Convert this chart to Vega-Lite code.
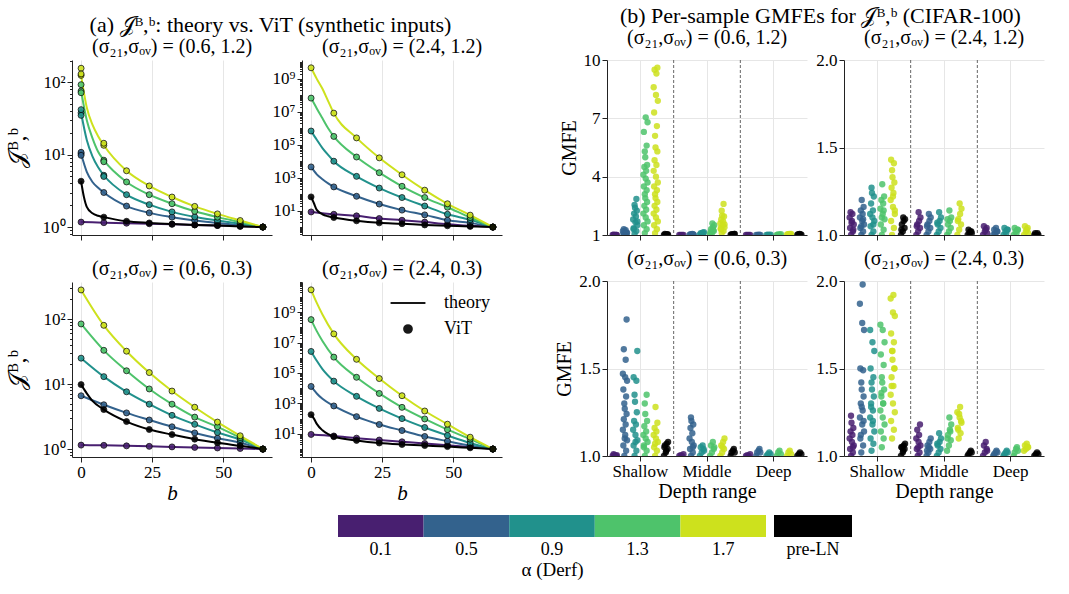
{
"$schema":"https://vega.github.io/schema/vega-lite/v6.json",
"config":{"font":"Liberation Serif","view":{"stroke":null},
 "axis":{"labelFontSize":17,"titleFontSize":19,"labelColor":"black","titleColor":"black","domainColor":"#222","tickColor":"#222","gridColor":"#e6e6e6","titleFontWeight":"normal","tickSize":5,"labelPadding":2},
 "title":{"fontSize":20,"fontWeight":"normal","color":"black","offset":3,"anchor":"middle"}},
"datasets":{
"a1":[
{"a":"0.1","b":0,"v":1.17,"k":"p"},{"a":"0.1","b":8,"v":1.15,"k":"p"},{"a":"0.1","b":16,"v":1.13,"k":"p"},{"a":"0.1","b":24,"v":1.11,"k":"p"},{"a":"0.1","b":32,"v":1.09,"k":"p"},{"a":"0.1","b":40,"v":1.07,"k":"p"},{"a":"0.1","b":48,"v":1.05,"k":"p"},{"a":"0.1","b":56,"v":1.03,"k":"p"},{"a":"0.1","b":64,"v":1.0,"k":"p"},
{"a":"0.5","b":0,"v":10.3,"k":"p"},{"a":"0.5","b":2,"v":5.8,"k":"t"},{"a":"0.5","b":4,"v":4.2,"k":"t"},{"a":"0.5","b":6,"v":3.5,"k":"t"},{"a":"0.5","b":8,"v":3.0,"k":"p"},{"a":"0.5","b":16,"v":1.95,"k":"p"},{"a":"0.5","b":24,"v":1.57,"k":"p"},{"a":"0.5","b":32,"v":1.37,"k":"p"},{"a":"0.5","b":40,"v":1.23,"k":"p"},{"a":"0.5","b":48,"v":1.14,"k":"p"},{"a":"0.5","b":56,"v":1.06,"k":"p"},{"a":"0.5","b":64,"v":1.0,"k":"p"},{"a":"0.5","b":0,"v":10.8,"k":"v"},{"a":"0.5","b":0,"v":9.8,"k":"v"},
{"a":"0.9","b":0,"v":38,"k":"p"},{"a":"0.9","b":2,"v":16,"k":"t"},{"a":"0.9","b":4,"v":9.5,"k":"t"},{"a":"0.9","b":6,"v":6.7,"k":"t"},{"a":"0.9","b":8,"v":5.2,"k":"p"},{"a":"0.9","b":16,"v":2.8,"k":"p"},{"a":"0.9","b":24,"v":2.04,"k":"p"},{"a":"0.9","b":32,"v":1.62,"k":"p"},{"a":"0.9","b":40,"v":1.38,"k":"p"},{"a":"0.9","b":48,"v":1.23,"k":"p"},{"a":"0.9","b":56,"v":1.11,"k":"p"},{"a":"0.9","b":64,"v":1.0,"k":"p"},{"a":"0.9","b":0,"v":42,"k":"v"},{"a":"0.9","b":0,"v":35,"k":"v"},{"a":"0.9","b":8,"v":5.0,"k":"v"},
{"a":"1.3","b":0,"v":76,"k":"p"},{"a":"1.3","b":2,"v":30,"k":"t"},{"a":"1.3","b":4,"v":17,"k":"t"},{"a":"1.3","b":6,"v":11,"k":"t"},{"a":"1.3","b":8,"v":8.4,"k":"p"},{"a":"1.3","b":16,"v":4.2,"k":"p"},{"a":"1.3","b":24,"v":2.8,"k":"p"},{"a":"1.3","b":32,"v":2.1,"k":"p"},{"a":"1.3","b":40,"v":1.65,"k":"p"},{"a":"1.3","b":48,"v":1.37,"k":"p"},{"a":"1.3","b":56,"v":1.17,"k":"p"},{"a":"1.3","b":64,"v":1.0,"k":"p"},{"a":"1.3","b":0,"v":93,"k":"v"},{"a":"1.3","b":0,"v":72,"k":"v"},{"a":"1.3","b":8,"v":8.0,"k":"v"},
{"a":"1.7","b":0,"v":125,"k":"p"},{"a":"1.7","b":2,"v":45,"k":"t"},{"a":"1.7","b":4,"v":26,"k":"t"},{"a":"1.7","b":6,"v":18,"k":"t"},{"a":"1.7","b":8,"v":13.5,"k":"p"},{"a":"1.7","b":16,"v":6.0,"k":"p"},{"a":"1.7","b":24,"v":3.7,"k":"p"},{"a":"1.7","b":32,"v":2.6,"k":"p"},{"a":"1.7","b":40,"v":1.93,"k":"p"},{"a":"1.7","b":48,"v":1.52,"k":"p"},{"a":"1.7","b":56,"v":1.23,"k":"p"},{"a":"1.7","b":64,"v":1.0,"k":"p"},{"a":"1.7","b":0,"v":157,"k":"v"},{"a":"1.7","b":0,"v":131,"k":"v"},{"a":"1.7","b":8,"v":14.4,"k":"v"},
{"a":"pre-LN","b":0,"v":4.3,"k":"p"},{"a":"pre-LN","b":1,"v":2.6,"k":"t"},{"a":"pre-LN","b":2,"v":1.9,"k":"t"},{"a":"pre-LN","b":4,"v":1.55,"k":"t"},{"a":"pre-LN","b":6,"v":1.43,"k":"t"},{"a":"pre-LN","b":8,"v":1.37,"k":"p"},{"a":"pre-LN","b":16,"v":1.2,"k":"p"},{"a":"pre-LN","b":24,"v":1.14,"k":"p"},{"a":"pre-LN","b":32,"v":1.1,"k":"p"},{"a":"pre-LN","b":40,"v":1.07,"k":"p"},{"a":"pre-LN","b":48,"v":1.05,"k":"p"},{"a":"pre-LN","b":56,"v":1.02,"k":"p"},{"a":"pre-LN","b":64,"v":1.0,"k":"p"}],
"a2":[
{"a":"0.1","b":0,"v":8.3,"k":"p"},{"a":"0.1","b":8,"v":6.0,"k":"p"},{"a":"0.1","b":16,"v":4.8,"k":"p"},{"a":"0.1","b":24,"v":3.3,"k":"p"},{"a":"0.1","b":32,"v":2.6,"k":"p"},{"a":"0.1","b":40,"v":2.0,"k":"p"},{"a":"0.1","b":48,"v":1.5,"k":"p"},{"a":"0.1","b":56,"v":1.2,"k":"p"},{"a":"0.1","b":64,"v":1.0,"k":"p"},
{"a":"0.5","b":0,"v":4500,"k":"p"},{"a":"0.5","b":2,"v":1600,"k":"t"},{"a":"0.5","b":4,"v":800,"k":"t"},{"a":"0.5","b":6,"v":450,"k":"t"},{"a":"0.5","b":8,"v":275,"k":"p"},{"a":"0.5","b":16,"v":74,"k":"p"},{"a":"0.5","b":24,"v":25,"k":"p"},{"a":"0.5","b":32,"v":10.7,"k":"p"},{"a":"0.5","b":40,"v":5.5,"k":"p"},{"a":"0.5","b":48,"v":2.6,"k":"p"},{"a":"0.5","b":56,"v":1.8,"k":"p"},{"a":"0.5","b":64,"v":1.0,"k":"p"},
{"a":"0.9","b":0,"v":680000,"k":"p"},{"a":"0.9","b":2,"v":200000,"k":"t"},{"a":"0.9","b":4,"v":63000,"k":"t"},{"a":"0.9","b":6,"v":24000,"k":"t"},{"a":"0.9","b":8,"v":10000,"k":"p"},{"a":"0.9","b":16,"v":1200,"k":"p"},{"a":"0.9","b":24,"v":234,"k":"p"},{"a":"0.9","b":32,"v":62,"k":"p"},{"a":"0.9","b":40,"v":19,"k":"p"},{"a":"0.9","b":48,"v":6,"k":"p"},{"a":"0.9","b":56,"v":2.8,"k":"p"},{"a":"0.9","b":64,"v":1.0,"k":"p"},
{"a":"1.3","b":0,"v":68000000,"k":"p"},{"a":"1.3","b":2,"v":16000000,"k":"t"},{"a":"1.3","b":4,"v":4000000,"k":"t"},{"a":"1.3","b":6,"v":1000000,"k":"t"},{"a":"1.3","b":8,"v":320000,"k":"p"},{"a":"1.3","b":16,"v":18000,"k":"p"},{"a":"1.3","b":24,"v":2000,"k":"p"},{"a":"1.3","b":32,"v":300,"k":"p"},{"a":"1.3","b":40,"v":62,"k":"p"},{"a":"1.3","b":48,"v":16,"k":"p"},{"a":"1.3","b":56,"v":3.8,"k":"p"},{"a":"1.3","b":64,"v":1.0,"k":"p"},
{"a":"1.7","b":0,"v":4700000000,"k":"p"},{"a":"1.7","b":2,"v":1000000000,"k":"t"},{"a":"1.7","b":4,"v":250000000,"k":"t"},{"a":"1.7","b":6,"v":45000000,"k":"t"},{"a":"1.7","b":8,"v":8300000,"k":"p"},{"a":"1.7","b":16,"v":260000,"k":"p"},{"a":"1.7","b":24,"v":16000,"k":"p"},{"a":"1.7","b":32,"v":1500,"k":"p"},{"a":"1.7","b":40,"v":174,"k":"p"},{"a":"1.7","b":48,"v":26,"k":"p"},{"a":"1.7","b":56,"v":5.3,"k":"p"},{"a":"1.7","b":64,"v":1.0,"k":"p"},
{"a":"pre-LN","b":0,"v":68,"k":"p"},{"a":"pre-LN","b":1,"v":28,"k":"t"},{"a":"pre-LN","b":2,"v":11,"k":"t"},{"a":"pre-LN","b":4,"v":6,"k":"t"},{"a":"pre-LN","b":6,"v":4.5,"k":"t"},{"a":"pre-LN","b":8,"v":3.8,"k":"p"},{"a":"pre-LN","b":16,"v":2.4,"k":"p"},{"a":"pre-LN","b":24,"v":1.8,"k":"p"},{"a":"pre-LN","b":32,"v":1.6,"k":"p"},{"a":"pre-LN","b":40,"v":1.35,"k":"p"},{"a":"pre-LN","b":48,"v":1.2,"k":"p"},{"a":"pre-LN","b":56,"v":1.1,"k":"p"},{"a":"pre-LN","b":64,"v":1.0,"k":"p"}],
"a3":[
{"a":"0.1","b":0,"v":1.15,"k":"p"},{"a":"0.1","b":8,"v":1.14,"k":"p"},{"a":"0.1","b":16,"v":1.12,"k":"p"},{"a":"0.1","b":24,"v":1.1,"k":"p"},{"a":"0.1","b":32,"v":1.08,"k":"p"},{"a":"0.1","b":40,"v":1.06,"k":"p"},{"a":"0.1","b":48,"v":1.04,"k":"p"},{"a":"0.1","b":56,"v":1.02,"k":"p"},{"a":"0.1","b":64,"v":1.0,"k":"p"},
{"a":"0.5","b":0,"v":6.6,"k":"p"},{"a":"0.5","b":8,"v":4.8,"k":"p"},{"a":"0.5","b":16,"v":3.6,"k":"p"},{"a":"0.5","b":24,"v":2.8,"k":"p"},{"a":"0.5","b":32,"v":2.2,"k":"p"},{"a":"0.5","b":40,"v":1.77,"k":"p"},{"a":"0.5","b":48,"v":1.47,"k":"p"},{"a":"0.5","b":56,"v":1.25,"k":"p"},{"a":"0.5","b":64,"v":1.0,"k":"p"},
{"a":"0.9","b":0,"v":25,"k":"p"},{"a":"0.9","b":8,"v":13,"k":"p"},{"a":"0.9","b":16,"v":7.6,"k":"p"},{"a":"0.9","b":24,"v":4.9,"k":"p"},{"a":"0.9","b":32,"v":3.3,"k":"p"},{"a":"0.9","b":40,"v":2.4,"k":"p"},{"a":"0.9","b":48,"v":1.8,"k":"p"},{"a":"0.9","b":56,"v":1.4,"k":"p"},{"a":"0.9","b":64,"v":1.0,"k":"p"},
{"a":"1.3","b":0,"v":84,"k":"p"},{"a":"1.3","b":8,"v":33,"k":"p"},{"a":"1.3","b":16,"v":16,"k":"p"},{"a":"1.3","b":24,"v":8.4,"k":"p"},{"a":"1.3","b":32,"v":4.9,"k":"p"},{"a":"1.3","b":40,"v":3.1,"k":"p"},{"a":"1.3","b":48,"v":2.2,"k":"p"},{"a":"1.3","b":56,"v":1.5,"k":"p"},{"a":"1.3","b":64,"v":1.0,"k":"p"},
{"a":"1.7","b":0,"v":280,"k":"p"},{"a":"1.7","b":8,"v":80,"k":"p"},{"a":"1.7","b":16,"v":32,"k":"p"},{"a":"1.7","b":24,"v":15,"k":"p"},{"a":"1.7","b":32,"v":7.8,"k":"p"},{"a":"1.7","b":40,"v":4.4,"k":"p"},{"a":"1.7","b":48,"v":2.6,"k":"p"},{"a":"1.7","b":56,"v":1.6,"k":"p"},{"a":"1.7","b":64,"v":1.0,"k":"p"},
{"a":"pre-LN","b":0,"v":9.8,"k":"p"},{"a":"pre-LN","b":2,"v":7.2,"k":"t"},{"a":"pre-LN","b":4,"v":5.5,"k":"t"},{"a":"pre-LN","b":8,"v":4.05,"k":"p"},{"a":"pre-LN","b":16,"v":2.65,"k":"p"},{"a":"pre-LN","b":24,"v":2.0,"k":"p"},{"a":"pre-LN","b":32,"v":1.67,"k":"p"},{"a":"pre-LN","b":40,"v":1.42,"k":"p"},{"a":"pre-LN","b":48,"v":1.25,"k":"p"},{"a":"pre-LN","b":56,"v":1.12,"k":"p"},{"a":"pre-LN","b":64,"v":1.0,"k":"p"}],
"a4":[
{"a":"0.1","b":0,"v":9.1,"k":"p"},{"a":"0.1","b":8,"v":7.2,"k":"p"},{"a":"0.1","b":16,"v":5.2,"k":"p"},{"a":"0.1","b":24,"v":3.9,"k":"p"},{"a":"0.1","b":32,"v":3.0,"k":"p"},{"a":"0.1","b":40,"v":2.3,"k":"p"},{"a":"0.1","b":48,"v":1.8,"k":"p"},{"a":"0.1","b":56,"v":1.35,"k":"p"},{"a":"0.1","b":64,"v":1.0,"k":"p"},
{"a":"0.5","b":0,"v":13000,"k":"p"},{"a":"0.5","b":2,"v":4500,"k":"t"},{"a":"0.5","b":4,"v":2000,"k":"t"},{"a":"0.5","b":8,"v":680,"k":"p"},{"a":"0.5","b":16,"v":135,"k":"p"},{"a":"0.5","b":24,"v":41,"k":"p"},{"a":"0.5","b":32,"v":16.5,"k":"p"},{"a":"0.5","b":40,"v":6.7,"k":"p"},{"a":"0.5","b":48,"v":3.3,"k":"p"},{"a":"0.5","b":56,"v":1.7,"k":"p"},{"a":"0.5","b":64,"v":1.0,"k":"p"},
{"a":"0.9","b":0,"v":2600000,"k":"p"},{"a":"0.9","b":2,"v":630000,"k":"t"},{"a":"0.9","b":4,"v":180000,"k":"t"},{"a":"0.9","b":8,"v":29000,"k":"p"},{"a":"0.9","b":16,"v":2900,"k":"p"},{"a":"0.9","b":24,"v":470,"k":"p"},{"a":"0.9","b":32,"v":100,"k":"p"},{"a":"0.9","b":40,"v":26,"k":"p"},{"a":"0.9","b":48,"v":7.8,"k":"p"},{"a":"0.9","b":56,"v":2.5,"k":"p"},{"a":"0.9","b":64,"v":1.0,"k":"p"},
{"a":"1.3","b":0,"v":320000000,"k":"p"},{"a":"1.3","b":2,"v":56000000,"k":"t"},{"a":"1.3","b":4,"v":12600000,"k":"t"},{"a":"1.3","b":8,"v":1100000,"k":"p"},{"a":"1.3","b":16,"v":52000,"k":"p"},{"a":"1.3","b":24,"v":4500,"k":"p"},{"a":"1.3","b":32,"v":550,"k":"p"},{"a":"1.3","b":40,"v":95,"k":"p"},{"a":"1.3","b":48,"v":19,"k":"p"},{"a":"1.3","b":56,"v":4.5,"k":"p"},{"a":"1.3","b":64,"v":1.0,"k":"p"},
{"a":"1.7","b":0,"v":29000000000,"k":"p"},{"a":"1.7","b":2,"v":4000000000,"k":"t"},{"a":"1.7","b":4,"v":700000000,"k":"t"},{"a":"1.7","b":8,"v":37000000,"k":"p"},{"a":"1.7","b":16,"v":790000,"k":"p"},{"a":"1.7","b":24,"v":43000,"k":"p"},{"a":"1.7","b":32,"v":3200,"k":"p"},{"a":"1.7","b":40,"v":316,"k":"p"},{"a":"1.7","b":48,"v":43,"k":"p"},{"a":"1.7","b":56,"v":6,"k":"p"},{"a":"1.7","b":64,"v":1.0,"k":"p"},
{"a":"pre-LN","b":0,"v":182,"k":"p"},{"a":"pre-LN","b":1,"v":100,"k":"t"},{"a":"pre-LN","b":2,"v":45,"k":"t"},{"a":"pre-LN","b":4,"v":17,"k":"t"},{"a":"pre-LN","b":6,"v":9.5,"k":"t"},{"a":"pre-LN","b":8,"v":6.5,"k":"p"},{"a":"pre-LN","b":16,"v":3.7,"k":"p"},{"a":"pre-LN","b":24,"v":2.5,"k":"p"},{"a":"pre-LN","b":32,"v":2.0,"k":"p"},{"a":"pre-LN","b":40,"v":1.7,"k":"p"},{"a":"pre-LN","b":48,"v":1.45,"k":"p"},{"a":"pre-LN","b":56,"v":1.2,"k":"p"},{"a":"pre-LN","b":64,"v":1.0,"k":"p"}],
"b1":[
{"d":"Shallow","a":"0.1","s":0,"v":1.0},{"d":"Shallow","a":"0.1","s":4,"v":1.01},{"d":"Shallow","a":"0.1","s":8,"v":1.0},{"d":"Shallow","a":"0.1","s":2,"v":1.02},{"d":"Shallow","a":"0.1","s":6,"v":1.01},{"d":"Shallow","a":"0.1","s":9,"v":1.0},
{"d":"Shallow","a":"0.5","s":3,"v":1.02},{"d":"Shallow","a":"0.5","s":7,"v":1.05},{"d":"Shallow","a":"0.5","s":1,"v":1.08},{"d":"Shallow","a":"0.5","s":9,"v":1.12},{"d":"Shallow","a":"0.5","s":5,"v":1.15},{"d":"Shallow","a":"0.5","s":0,"v":1.2},{"d":"Shallow","a":"0.5","s":6,"v":1.25},{"d":"Shallow","a":"0.5","s":2,"v":1.3},{"d":"Shallow","a":"0.5","s":8,"v":1.1},{"d":"Shallow","a":"0.5","s":4,"v":1.05},
{"d":"Shallow","a":"0.9","s":3,"v":1.05},{"d":"Shallow","a":"0.9","s":7,"v":1.2},{"d":"Shallow","a":"0.9","s":1,"v":1.35},{"d":"Shallow","a":"0.9","s":9,"v":1.5},{"d":"Shallow","a":"0.9","s":5,"v":1.65},{"d":"Shallow","a":"0.9","s":0,"v":1.8},{"d":"Shallow","a":"0.9","s":6,"v":1.95},{"d":"Shallow","a":"0.9","s":2,"v":2.1},{"d":"Shallow","a":"0.9","s":8,"v":2.25},{"d":"Shallow","a":"0.9","s":4,"v":2.4},{"d":"Shallow","a":"0.9","s":3,"v":2.55},{"d":"Shallow","a":"0.9","s":7,"v":2.85},{"d":"Shallow","a":"0.9","s":1,"v":1.3},{"d":"Shallow","a":"0.9","s":9,"v":1.7},
{"d":"Shallow","a":"1.3","s":3,"v":1.1},{"d":"Shallow","a":"1.3","s":7,"v":1.3},{"d":"Shallow","a":"1.3","s":1,"v":1.5},{"d":"Shallow","a":"1.3","s":9,"v":1.7},{"d":"Shallow","a":"1.3","s":5,"v":1.9},{"d":"Shallow","a":"1.3","s":0,"v":2.1},{"d":"Shallow","a":"1.3","s":6,"v":2.3},{"d":"Shallow","a":"1.3","s":2,"v":2.5},{"d":"Shallow","a":"1.3","s":8,"v":2.7},{"d":"Shallow","a":"1.3","s":4,"v":2.9},{"d":"Shallow","a":"1.3","s":3,"v":3.1},{"d":"Shallow","a":"1.3","s":7,"v":3.3},{"d":"Shallow","a":"1.3","s":1,"v":3.5},{"d":"Shallow","a":"1.3","s":9,"v":3.7},{"d":"Shallow","a":"1.3","s":5,"v":3.9},{"d":"Shallow","a":"1.3","s":0,"v":4.1},{"d":"Shallow","a":"1.3","s":6,"v":4.3},{"d":"Shallow","a":"1.3","s":2,"v":4.5},{"d":"Shallow","a":"1.3","s":8,"v":4.6},{"d":"Shallow","a":"1.3","s":4,"v":5.0},{"d":"Shallow","a":"1.3","s":3,"v":5.3},{"d":"Shallow","a":"1.3","s":7,"v":5.6},{"d":"Shallow","a":"1.3","s":1,"v":6.3},{"d":"Shallow","a":"1.3","s":9,"v":6.8},{"d":"Shallow","a":"1.3","s":5,"v":7.05},
{"d":"Shallow","a":"1.7","s":3,"v":1.1},{"d":"Shallow","a":"1.7","s":7,"v":1.3},{"d":"Shallow","a":"1.7","s":1,"v":1.5},{"d":"Shallow","a":"1.7","s":9,"v":1.7},{"d":"Shallow","a":"1.7","s":5,"v":1.9},{"d":"Shallow","a":"1.7","s":0,"v":2.1},{"d":"Shallow","a":"1.7","s":6,"v":2.3},{"d":"Shallow","a":"1.7","s":2,"v":2.5},{"d":"Shallow","a":"1.7","s":8,"v":2.7},{"d":"Shallow","a":"1.7","s":4,"v":2.9},{"d":"Shallow","a":"1.7","s":3,"v":3.1},{"d":"Shallow","a":"1.7","s":7,"v":3.3},{"d":"Shallow","a":"1.7","s":1,"v":3.5},{"d":"Shallow","a":"1.7","s":9,"v":3.7},{"d":"Shallow","a":"1.7","s":5,"v":4.0},{"d":"Shallow","a":"1.7","s":0,"v":4.3},{"d":"Shallow","a":"1.7","s":6,"v":4.6},{"d":"Shallow","a":"1.7","s":2,"v":4.85},{"d":"Shallow","a":"1.7","s":8,"v":5.3},{"d":"Shallow","a":"1.7","s":4,"v":5.5},{"d":"Shallow","a":"1.7","s":3,"v":6.1},{"d":"Shallow","a":"1.7","s":7,"v":6.6},{"d":"Shallow","a":"1.7","s":1,"v":7.3},{"d":"Shallow","a":"1.7","s":9,"v":7.9},{"d":"Shallow","a":"1.7","s":5,"v":8.2},{"d":"Shallow","a":"1.7","s":0,"v":8.6},{"d":"Shallow","a":"1.7","s":6,"v":9.3},{"d":"Shallow","a":"1.7","s":2,"v":9.5},{"d":"Shallow","a":"1.7","s":8,"v":9.6},
{"d":"Shallow","a":"pre-LN","s":0,"v":1.0},{"d":"Shallow","a":"pre-LN","s":4,"v":1.02},{"d":"Shallow","a":"pre-LN","s":8,"v":1.04},{"d":"Shallow","a":"pre-LN","s":2,"v":1.05},{"d":"Shallow","a":"pre-LN","s":6,"v":1.03},{"d":"Shallow","a":"pre-LN","s":9,"v":1.01},
{"d":"Middle","a":"0.1","s":0,"v":1.0},{"d":"Middle","a":"0.1","s":3,"v":1.01},{"d":"Middle","a":"0.1","s":6,"v":1.0},{"d":"Middle","a":"0.1","s":9,"v":1.0},
{"d":"Middle","a":"0.5","s":0,"v":1.0},{"d":"Middle","a":"0.5","s":4,"v":1.02},{"d":"Middle","a":"0.5","s":8,"v":1.03},{"d":"Middle","a":"0.5","s":2,"v":1.04},{"d":"Middle","a":"0.5","s":6,"v":1.05},{"d":"Middle","a":"0.5","s":9,"v":1.02},
{"d":"Middle","a":"0.9","s":0,"v":1.02},{"d":"Middle","a":"0.9","s":4,"v":1.05},{"d":"Middle","a":"0.9","s":8,"v":1.08},{"d":"Middle","a":"0.9","s":2,"v":1.1},{"d":"Middle","a":"0.9","s":6,"v":1.12},{"d":"Middle","a":"0.9","s":9,"v":1.15},
{"d":"Middle","a":"1.3","s":0,"v":1.05},{"d":"Middle","a":"1.3","s":4,"v":1.1},{"d":"Middle","a":"1.3","s":8,"v":1.2},{"d":"Middle","a":"1.3","s":2,"v":1.3},{"d":"Middle","a":"1.3","s":6,"v":1.4},{"d":"Middle","a":"1.3","s":9,"v":1.5},{"d":"Middle","a":"1.3","s":5,"v":1.6},{"d":"Middle","a":"1.3","s":1,"v":1.15},{"d":"Middle","a":"1.3","s":7,"v":1.25},
{"d":"Middle","a":"1.7","s":3,"v":1.1},{"d":"Middle","a":"1.7","s":7,"v":1.2},{"d":"Middle","a":"1.7","s":1,"v":1.3},{"d":"Middle","a":"1.7","s":9,"v":1.4},{"d":"Middle","a":"1.7","s":5,"v":1.5},{"d":"Middle","a":"1.7","s":0,"v":1.6},{"d":"Middle","a":"1.7","s":6,"v":1.7},{"d":"Middle","a":"1.7","s":2,"v":1.8},{"d":"Middle","a":"1.7","s":8,"v":1.95},{"d":"Middle","a":"1.7","s":4,"v":2.0},{"d":"Middle","a":"1.7","s":3,"v":2.25},{"d":"Middle","a":"1.7","s":7,"v":2.6},{"d":"Middle","a":"1.7","s":1,"v":1.35},{"d":"Middle","a":"1.7","s":9,"v":1.55},
{"d":"Middle","a":"pre-LN","s":0,"v":1.0},{"d":"Middle","a":"pre-LN","s":4,"v":1.03},{"d":"Middle","a":"pre-LN","s":8,"v":1.05},{"d":"Middle","a":"pre-LN","s":2,"v":1.04},{"d":"Middle","a":"pre-LN","s":6,"v":1.02},{"d":"Middle","a":"pre-LN","s":9,"v":1.06},
{"d":"Deep","a":"0.1","s":0,"v":1.0},{"d":"Deep","a":"0.1","s":3,"v":1.01},{"d":"Deep","a":"0.1","s":6,"v":1.0},{"d":"Deep","a":"0.1","s":9,"v":1.01},
{"d":"Deep","a":"0.5","s":0,"v":1.0},{"d":"Deep","a":"0.5","s":3,"v":1.01},{"d":"Deep","a":"0.5","s":6,"v":1.02},{"d":"Deep","a":"0.5","s":9,"v":1.01},
{"d":"Deep","a":"0.9","s":0,"v":1.0},{"d":"Deep","a":"0.9","s":3,"v":1.02},{"d":"Deep","a":"0.9","s":6,"v":1.01},{"d":"Deep","a":"0.9","s":9,"v":1.02},
{"d":"Deep","a":"1.3","s":0,"v":1.01},{"d":"Deep","a":"1.3","s":3,"v":1.03},{"d":"Deep","a":"1.3","s":6,"v":1.02},{"d":"Deep","a":"1.3","s":9,"v":1.04},
{"d":"Deep","a":"1.7","s":0,"v":1.02},{"d":"Deep","a":"1.7","s":2,"v":1.04},{"d":"Deep","a":"1.7","s":5,"v":1.05},{"d":"Deep","a":"1.7","s":7,"v":1.03},{"d":"Deep","a":"1.7","s":9,"v":1.06},
{"d":"Deep","a":"pre-LN","s":0,"v":1.0},{"d":"Deep","a":"pre-LN","s":2,"v":1.04},{"d":"Deep","a":"pre-LN","s":5,"v":1.05},{"d":"Deep","a":"pre-LN","s":7,"v":1.03},{"d":"Deep","a":"pre-LN","s":9,"v":1.02}],
"b2":[
{"d":"Shallow","a":"0.1","s":3,"v":1.0},{"d":"Shallow","a":"0.1","s":7,"v":1.02},{"d":"Shallow","a":"0.1","s":1,"v":1.04},{"d":"Shallow","a":"0.1","s":9,"v":1.06},{"d":"Shallow","a":"0.1","s":5,"v":1.08},{"d":"Shallow","a":"0.1","s":0,"v":1.1},{"d":"Shallow","a":"0.1","s":6,"v":1.12},{"d":"Shallow","a":"0.1","s":2,"v":1.13},{"d":"Shallow","a":"0.1","s":8,"v":1.03},{"d":"Shallow","a":"0.1","s":4,"v":1.07},
{"d":"Shallow","a":"0.5","s":3,"v":1.0},{"d":"Shallow","a":"0.5","s":7,"v":1.02},{"d":"Shallow","a":"0.5","s":1,"v":1.04},{"d":"Shallow","a":"0.5","s":9,"v":1.06},{"d":"Shallow","a":"0.5","s":5,"v":1.08},{"d":"Shallow","a":"0.5","s":0,"v":1.1},{"d":"Shallow","a":"0.5","s":6,"v":1.12},{"d":"Shallow","a":"0.5","s":2,"v":1.14},{"d":"Shallow","a":"0.5","s":8,"v":1.16},{"d":"Shallow","a":"0.5","s":4,"v":1.2},{"d":"Shallow","a":"0.5","s":3,"v":1.05},{"d":"Shallow","a":"0.5","s":7,"v":1.09},
{"d":"Shallow","a":"0.9","s":3,"v":1.0},{"d":"Shallow","a":"0.9","s":7,"v":1.02},{"d":"Shallow","a":"0.9","s":1,"v":1.05},{"d":"Shallow","a":"0.9","s":9,"v":1.08},{"d":"Shallow","a":"0.9","s":5,"v":1.1},{"d":"Shallow","a":"0.9","s":0,"v":1.12},{"d":"Shallow","a":"0.9","s":6,"v":1.14},{"d":"Shallow","a":"0.9","s":2,"v":1.18},{"d":"Shallow","a":"0.9","s":8,"v":1.22},{"d":"Shallow","a":"0.9","s":4,"v":1.24},{"d":"Shallow","a":"0.9","s":3,"v":1.27},{"d":"Shallow","a":"0.9","s":7,"v":1.06},
{"d":"Shallow","a":"1.3","s":3,"v":1.0},{"d":"Shallow","a":"1.3","s":7,"v":1.03},{"d":"Shallow","a":"1.3","s":1,"v":1.06},{"d":"Shallow","a":"1.3","s":9,"v":1.09},{"d":"Shallow","a":"1.3","s":5,"v":1.12},{"d":"Shallow","a":"1.3","s":0,"v":1.15},{"d":"Shallow","a":"1.3","s":6,"v":1.18},{"d":"Shallow","a":"1.3","s":2,"v":1.2},{"d":"Shallow","a":"1.3","s":8,"v":1.22},{"d":"Shallow","a":"1.3","s":4,"v":1.29},{"d":"Shallow","a":"1.3","s":3,"v":1.1},{"d":"Shallow","a":"1.3","s":7,"v":1.14},
{"d":"Shallow","a":"1.7","s":3,"v":1.0},{"d":"Shallow","a":"1.7","s":7,"v":1.04},{"d":"Shallow","a":"1.7","s":1,"v":1.08},{"d":"Shallow","a":"1.7","s":9,"v":1.12},{"d":"Shallow","a":"1.7","s":5,"v":1.16},{"d":"Shallow","a":"1.7","s":0,"v":1.2},{"d":"Shallow","a":"1.7","s":6,"v":1.24},{"d":"Shallow","a":"1.7","s":2,"v":1.27},{"d":"Shallow","a":"1.7","s":8,"v":1.3},{"d":"Shallow","a":"1.7","s":4,"v":1.33},{"d":"Shallow","a":"1.7","s":3,"v":1.37},{"d":"Shallow","a":"1.7","s":7,"v":1.41},{"d":"Shallow","a":"1.7","s":1,"v":1.43},{"d":"Shallow","a":"1.7","s":9,"v":1.14},{"d":"Shallow","a":"1.7","s":5,"v":1.22},
{"d":"Shallow","a":"pre-LN","s":0,"v":1.0},{"d":"Shallow","a":"pre-LN","s":4,"v":1.02},{"d":"Shallow","a":"pre-LN","s":8,"v":1.04},{"d":"Shallow","a":"pre-LN","s":2,"v":1.06},{"d":"Shallow","a":"pre-LN","s":6,"v":1.08},{"d":"Shallow","a":"pre-LN","s":9,"v":1.09},{"d":"Shallow","a":"pre-LN","s":5,"v":1.1},{"d":"Shallow","a":"pre-LN","s":1,"v":1.03},
{"d":"Middle","a":"0.1","s":0,"v":1.0},{"d":"Middle","a":"0.1","s":4,"v":1.02},{"d":"Middle","a":"0.1","s":8,"v":1.04},{"d":"Middle","a":"0.1","s":2,"v":1.06},{"d":"Middle","a":"0.1","s":6,"v":1.08},{"d":"Middle","a":"0.1","s":9,"v":1.1},{"d":"Middle","a":"0.1","s":5,"v":1.13},{"d":"Middle","a":"0.1","s":1,"v":1.05},
{"d":"Middle","a":"0.5","s":0,"v":1.0},{"d":"Middle","a":"0.5","s":4,"v":1.02},{"d":"Middle","a":"0.5","s":8,"v":1.04},{"d":"Middle","a":"0.5","s":2,"v":1.06},{"d":"Middle","a":"0.5","s":6,"v":1.08},{"d":"Middle","a":"0.5","s":9,"v":1.1},{"d":"Middle","a":"0.5","s":5,"v":1.12},{"d":"Middle","a":"0.5","s":1,"v":1.05},
{"d":"Middle","a":"0.9","s":0,"v":1.0},{"d":"Middle","a":"0.9","s":4,"v":1.02},{"d":"Middle","a":"0.9","s":8,"v":1.04},{"d":"Middle","a":"0.9","s":2,"v":1.06},{"d":"Middle","a":"0.9","s":6,"v":1.08},{"d":"Middle","a":"0.9","s":9,"v":1.1},{"d":"Middle","a":"0.9","s":5,"v":1.13},{"d":"Middle","a":"0.9","s":1,"v":1.07},
{"d":"Middle","a":"1.3","s":0,"v":1.0},{"d":"Middle","a":"1.3","s":4,"v":1.02},{"d":"Middle","a":"1.3","s":8,"v":1.04},{"d":"Middle","a":"1.3","s":2,"v":1.06},{"d":"Middle","a":"1.3","s":6,"v":1.08},{"d":"Middle","a":"1.3","s":9,"v":1.1},{"d":"Middle","a":"1.3","s":5,"v":1.14},{"d":"Middle","a":"1.3","s":1,"v":1.09},
{"d":"Middle","a":"1.7","s":0,"v":1.0},{"d":"Middle","a":"1.7","s":4,"v":1.03},{"d":"Middle","a":"1.7","s":8,"v":1.06},{"d":"Middle","a":"1.7","s":2,"v":1.09},{"d":"Middle","a":"1.7","s":6,"v":1.12},{"d":"Middle","a":"1.7","s":9,"v":1.15},{"d":"Middle","a":"1.7","s":5,"v":1.18},{"d":"Middle","a":"1.7","s":1,"v":1.08},
{"d":"Middle","a":"pre-LN","s":0,"v":1.0},{"d":"Middle","a":"pre-LN","s":4,"v":1.01},{"d":"Middle","a":"pre-LN","s":8,"v":1.02},{"d":"Middle","a":"pre-LN","s":2,"v":1.03},{"d":"Middle","a":"pre-LN","s":6,"v":1.02},{"d":"Middle","a":"pre-LN","s":9,"v":1.01},
{"d":"Deep","a":"0.1","s":0,"v":1.0},{"d":"Deep","a":"0.1","s":4,"v":1.02},{"d":"Deep","a":"0.1","s":8,"v":1.04},{"d":"Deep","a":"0.1","s":2,"v":1.05},{"d":"Deep","a":"0.1","s":6,"v":1.03},{"d":"Deep","a":"0.1","s":9,"v":1.01},
{"d":"Deep","a":"0.5","s":0,"v":1.0},{"d":"Deep","a":"0.5","s":4,"v":1.01},{"d":"Deep","a":"0.5","s":8,"v":1.02},{"d":"Deep","a":"0.5","s":2,"v":1.03},{"d":"Deep","a":"0.5","s":6,"v":1.04},{"d":"Deep","a":"0.5","s":9,"v":1.02},
{"d":"Deep","a":"0.9","s":0,"v":1.0},{"d":"Deep","a":"0.9","s":4,"v":1.02},{"d":"Deep","a":"0.9","s":8,"v":1.03},{"d":"Deep","a":"0.9","s":2,"v":1.04},{"d":"Deep","a":"0.9","s":6,"v":1.01},{"d":"Deep","a":"0.9","s":9,"v":1.03},
{"d":"Deep","a":"1.3","s":0,"v":1.0},{"d":"Deep","a":"1.3","s":4,"v":1.02},{"d":"Deep","a":"1.3","s":8,"v":1.03},{"d":"Deep","a":"1.3","s":2,"v":1.04},{"d":"Deep","a":"1.3","s":6,"v":1.01},{"d":"Deep","a":"1.3","s":9,"v":1.03},
{"d":"Deep","a":"1.7","s":0,"v":1.0},{"d":"Deep","a":"1.7","s":4,"v":1.02},{"d":"Deep","a":"1.7","s":8,"v":1.04},{"d":"Deep","a":"1.7","s":2,"v":1.05},{"d":"Deep","a":"1.7","s":6,"v":1.03},{"d":"Deep","a":"1.7","s":9,"v":1.01},
{"d":"Deep","a":"pre-LN","s":0,"v":1.0},{"d":"Deep","a":"pre-LN","s":2,"v":1.01},{"d":"Deep","a":"pre-LN","s":5,"v":1.0},{"d":"Deep","a":"pre-LN","s":7,"v":1.01},{"d":"Deep","a":"pre-LN","s":9,"v":1.0}],
"b3":[
{"d":"Shallow","a":"0.1","s":0,"v":1.0},{"d":"Shallow","a":"0.1","s":4,"v":1.005},{"d":"Shallow","a":"0.1","s":8,"v":1.0},{"d":"Shallow","a":"0.1","s":2,"v":1.01},{"d":"Shallow","a":"0.1","s":6,"v":1.0},{"d":"Shallow","a":"0.1","s":9,"v":1.005},
{"d":"Shallow","a":"0.5","s":3,"v":1.0},{"d":"Shallow","a":"0.5","s":7,"v":1.03},{"d":"Shallow","a":"0.5","s":1,"v":1.06},{"d":"Shallow","a":"0.5","s":9,"v":1.09},{"d":"Shallow","a":"0.5","s":5,"v":1.12},{"d":"Shallow","a":"0.5","s":0,"v":1.15},{"d":"Shallow","a":"0.5","s":6,"v":1.18},{"d":"Shallow","a":"0.5","s":2,"v":1.21},{"d":"Shallow","a":"0.5","s":8,"v":1.24},{"d":"Shallow","a":"0.5","s":4,"v":1.27},{"d":"Shallow","a":"0.5","s":3,"v":1.3},{"d":"Shallow","a":"0.5","s":7,"v":1.34},{"d":"Shallow","a":"0.5","s":1,"v":1.38},{"d":"Shallow","a":"0.5","s":9,"v":1.43},{"d":"Shallow","a":"0.5","s":5,"v":1.45},{"d":"Shallow","a":"0.5","s":0,"v":1.47},{"d":"Shallow","a":"0.5","s":6,"v":1.55},{"d":"Shallow","a":"0.5","s":2,"v":1.61},{"d":"Shallow","a":"0.5","s":8,"v":1.78},{"d":"Shallow","a":"0.5","s":4,"v":1.1},
{"d":"Shallow","a":"0.9","s":3,"v":1.0},{"d":"Shallow","a":"0.9","s":7,"v":1.03},{"d":"Shallow","a":"0.9","s":1,"v":1.06},{"d":"Shallow","a":"0.9","s":9,"v":1.09},{"d":"Shallow","a":"0.9","s":5,"v":1.12},{"d":"Shallow","a":"0.9","s":0,"v":1.15},{"d":"Shallow","a":"0.9","s":6,"v":1.18},{"d":"Shallow","a":"0.9","s":2,"v":1.2},{"d":"Shallow","a":"0.9","s":8,"v":1.25},{"d":"Shallow","a":"0.9","s":4,"v":1.31},{"d":"Shallow","a":"0.9","s":3,"v":1.35},{"d":"Shallow","a":"0.9","s":7,"v":1.43},{"d":"Shallow","a":"0.9","s":1,"v":1.45},{"d":"Shallow","a":"0.9","s":9,"v":1.6},{"d":"Shallow","a":"0.9","s":5,"v":1.08},
{"d":"Shallow","a":"1.3","s":3,"v":1.0},{"d":"Shallow","a":"1.3","s":7,"v":1.03},{"d":"Shallow","a":"1.3","s":1,"v":1.05},{"d":"Shallow","a":"1.3","s":9,"v":1.08},{"d":"Shallow","a":"1.3","s":5,"v":1.1},{"d":"Shallow","a":"1.3","s":0,"v":1.12},{"d":"Shallow","a":"1.3","s":6,"v":1.14},{"d":"Shallow","a":"1.3","s":2,"v":1.17},{"d":"Shallow","a":"1.3","s":8,"v":1.2},{"d":"Shallow","a":"1.3","s":4,"v":1.24},{"d":"Shallow","a":"1.3","s":3,"v":1.3},{"d":"Shallow","a":"1.3","s":7,"v":1.35},{"d":"Shallow","a":"1.3","s":1,"v":1.06},
{"d":"Shallow","a":"1.7","s":3,"v":1.0},{"d":"Shallow","a":"1.7","s":7,"v":1.03},{"d":"Shallow","a":"1.7","s":1,"v":1.05},{"d":"Shallow","a":"1.7","s":9,"v":1.08},{"d":"Shallow","a":"1.7","s":5,"v":1.1},{"d":"Shallow","a":"1.7","s":0,"v":1.12},{"d":"Shallow","a":"1.7","s":6,"v":1.14},{"d":"Shallow","a":"1.7","s":2,"v":1.16},{"d":"Shallow","a":"1.7","s":8,"v":1.19},{"d":"Shallow","a":"1.7","s":4,"v":1.28},{"d":"Shallow","a":"1.7","s":3,"v":1.07},
{"d":"Shallow","a":"pre-LN","s":0,"v":1.0},{"d":"Shallow","a":"pre-LN","s":4,"v":1.02},{"d":"Shallow","a":"pre-LN","s":8,"v":1.04},{"d":"Shallow","a":"pre-LN","s":2,"v":1.06},{"d":"Shallow","a":"pre-LN","s":6,"v":1.07},{"d":"Shallow","a":"pre-LN","s":9,"v":1.08},{"d":"Shallow","a":"pre-LN","s":5,"v":1.03},{"d":"Shallow","a":"pre-LN","s":1,"v":1.05},
{"d":"Middle","a":"0.1","s":0,"v":1.0},{"d":"Middle","a":"0.1","s":3,"v":1.005},{"d":"Middle","a":"0.1","s":6,"v":1.0},{"d":"Middle","a":"0.1","s":9,"v":1.01},
{"d":"Middle","a":"0.5","s":3,"v":1.0},{"d":"Middle","a":"0.5","s":7,"v":1.02},{"d":"Middle","a":"0.5","s":1,"v":1.04},{"d":"Middle","a":"0.5","s":9,"v":1.06},{"d":"Middle","a":"0.5","s":5,"v":1.08},{"d":"Middle","a":"0.5","s":0,"v":1.1},{"d":"Middle","a":"0.5","s":6,"v":1.13},{"d":"Middle","a":"0.5","s":2,"v":1.16},{"d":"Middle","a":"0.5","s":8,"v":1.18},{"d":"Middle","a":"0.5","s":4,"v":1.2},{"d":"Middle","a":"0.5","s":3,"v":1.22},{"d":"Middle","a":"0.5","s":7,"v":1.05},
{"d":"Middle","a":"0.9","s":0,"v":1.0},{"d":"Middle","a":"0.9","s":4,"v":1.02},{"d":"Middle","a":"0.9","s":8,"v":1.04},{"d":"Middle","a":"0.9","s":2,"v":1.05},{"d":"Middle","a":"0.9","s":6,"v":1.06},{"d":"Middle","a":"0.9","s":9,"v":1.03},
{"d":"Middle","a":"1.3","s":0,"v":1.0},{"d":"Middle","a":"1.3","s":4,"v":1.02},{"d":"Middle","a":"1.3","s":8,"v":1.04},{"d":"Middle","a":"1.3","s":2,"v":1.06},{"d":"Middle","a":"1.3","s":6,"v":1.08},{"d":"Middle","a":"1.3","s":9,"v":1.05},
{"d":"Middle","a":"1.7","s":0,"v":1.0},{"d":"Middle","a":"1.7","s":4,"v":1.02},{"d":"Middle","a":"1.7","s":8,"v":1.04},{"d":"Middle","a":"1.7","s":2,"v":1.06},{"d":"Middle","a":"1.7","s":6,"v":1.08},{"d":"Middle","a":"1.7","s":9,"v":1.1},{"d":"Middle","a":"1.7","s":5,"v":1.05},
{"d":"Middle","a":"pre-LN","s":0,"v":1.0},{"d":"Middle","a":"pre-LN","s":2,"v":1.02},{"d":"Middle","a":"pre-LN","s":5,"v":1.03},{"d":"Middle","a":"pre-LN","s":7,"v":1.04},{"d":"Middle","a":"pre-LN","s":9,"v":1.02},
{"d":"Deep","a":"0.1","s":0,"v":1.0},{"d":"Deep","a":"0.1","s":3,"v":1.005},{"d":"Deep","a":"0.1","s":6,"v":1.0},{"d":"Deep","a":"0.1","s":9,"v":1.01},
{"d":"Deep","a":"0.5","s":0,"v":1.0},{"d":"Deep","a":"0.5","s":2,"v":1.02},{"d":"Deep","a":"0.5","s":5,"v":1.03},{"d":"Deep","a":"0.5","s":7,"v":1.04},{"d":"Deep","a":"0.5","s":9,"v":1.02},
{"d":"Deep","a":"0.9","s":0,"v":1.0},{"d":"Deep","a":"0.9","s":3,"v":1.01},{"d":"Deep","a":"0.9","s":6,"v":1.02},{"d":"Deep","a":"0.9","s":9,"v":1.01},
{"d":"Deep","a":"1.3","s":0,"v":1.0},{"d":"Deep","a":"1.3","s":3,"v":1.02},{"d":"Deep","a":"1.3","s":6,"v":1.03},{"d":"Deep","a":"1.3","s":9,"v":1.01},
{"d":"Deep","a":"1.7","s":0,"v":1.0},{"d":"Deep","a":"1.7","s":3,"v":1.02},{"d":"Deep","a":"1.7","s":6,"v":1.03},{"d":"Deep","a":"1.7","s":9,"v":1.01},
{"d":"Deep","a":"pre-LN","s":0,"v":1.0},{"d":"Deep","a":"pre-LN","s":3,"v":1.01},{"d":"Deep","a":"pre-LN","s":6,"v":1.02},{"d":"Deep","a":"pre-LN","s":9,"v":1.01}],
"b4":[
{"d":"Shallow","a":"0.1","s":3,"v":1.0},{"d":"Shallow","a":"0.1","s":7,"v":1.02},{"d":"Shallow","a":"0.1","s":1,"v":1.04},{"d":"Shallow","a":"0.1","s":9,"v":1.06},{"d":"Shallow","a":"0.1","s":5,"v":1.08},{"d":"Shallow","a":"0.1","s":0,"v":1.1},{"d":"Shallow","a":"0.1","s":6,"v":1.12},{"d":"Shallow","a":"0.1","s":2,"v":1.14},{"d":"Shallow","a":"0.1","s":8,"v":1.16},{"d":"Shallow","a":"0.1","s":4,"v":1.19},{"d":"Shallow","a":"0.1","s":3,"v":1.23},{"d":"Shallow","a":"0.1","s":7,"v":1.05},
{"d":"Shallow","a":"0.5","s":3,"v":1.02},{"d":"Shallow","a":"0.5","s":7,"v":1.06},{"d":"Shallow","a":"0.5","s":1,"v":1.1},{"d":"Shallow","a":"0.5","s":9,"v":1.14},{"d":"Shallow","a":"0.5","s":5,"v":1.18},{"d":"Shallow","a":"0.5","s":0,"v":1.22},{"d":"Shallow","a":"0.5","s":6,"v":1.26},{"d":"Shallow","a":"0.5","s":2,"v":1.3},{"d":"Shallow","a":"0.5","s":8,"v":1.34},{"d":"Shallow","a":"0.5","s":4,"v":1.38},{"d":"Shallow","a":"0.5","s":3,"v":1.42},{"d":"Shallow","a":"0.5","s":7,"v":1.49},{"d":"Shallow","a":"0.5","s":1,"v":1.5},{"d":"Shallow","a":"0.5","s":9,"v":1.72},{"d":"Shallow","a":"0.5","s":5,"v":1.76},{"d":"Shallow","a":"0.5","s":0,"v":1.87},{"d":"Shallow","a":"0.5","s":6,"v":1.98},{"d":"Shallow","a":"0.5","s":2,"v":1.12},{"d":"Shallow","a":"0.5","s":8,"v":1.2},{"d":"Shallow","a":"0.5","s":4,"v":1.28},
{"d":"Shallow","a":"0.9","s":3,"v":1.03},{"d":"Shallow","a":"0.9","s":7,"v":1.07},{"d":"Shallow","a":"0.9","s":1,"v":1.1},{"d":"Shallow","a":"0.9","s":9,"v":1.14},{"d":"Shallow","a":"0.9","s":5,"v":1.18},{"d":"Shallow","a":"0.9","s":0,"v":1.22},{"d":"Shallow","a":"0.9","s":6,"v":1.26},{"d":"Shallow","a":"0.9","s":2,"v":1.3},{"d":"Shallow","a":"0.9","s":8,"v":1.34},{"d":"Shallow","a":"0.9","s":4,"v":1.38},{"d":"Shallow","a":"0.9","s":3,"v":1.42},{"d":"Shallow","a":"0.9","s":7,"v":1.45},{"d":"Shallow","a":"0.9","s":1,"v":1.5},{"d":"Shallow","a":"0.9","s":9,"v":1.6},{"d":"Shallow","a":"0.9","s":5,"v":1.65},{"d":"Shallow","a":"0.9","s":0,"v":1.72},{"d":"Shallow","a":"0.9","s":6,"v":1.2},{"d":"Shallow","a":"0.9","s":2,"v":1.28},
{"d":"Shallow","a":"1.3","s":3,"v":1.05},{"d":"Shallow","a":"1.3","s":7,"v":1.1},{"d":"Shallow","a":"1.3","s":1,"v":1.14},{"d":"Shallow","a":"1.3","s":9,"v":1.18},{"d":"Shallow","a":"1.3","s":5,"v":1.22},{"d":"Shallow","a":"1.3","s":0,"v":1.26},{"d":"Shallow","a":"1.3","s":6,"v":1.3},{"d":"Shallow","a":"1.3","s":2,"v":1.34},{"d":"Shallow","a":"1.3","s":8,"v":1.38},{"d":"Shallow","a":"1.3","s":4,"v":1.42},{"d":"Shallow","a":"1.3","s":3,"v":1.45},{"d":"Shallow","a":"1.3","s":7,"v":1.52},{"d":"Shallow","a":"1.3","s":1,"v":1.58},{"d":"Shallow","a":"1.3","s":9,"v":1.65},{"d":"Shallow","a":"1.3","s":5,"v":1.72},{"d":"Shallow","a":"1.3","s":0,"v":1.75},{"d":"Shallow","a":"1.3","s":6,"v":1.3},{"d":"Shallow","a":"1.3","s":2,"v":1.36},
{"d":"Shallow","a":"1.7","s":3,"v":1.1},{"d":"Shallow","a":"1.7","s":7,"v":1.15},{"d":"Shallow","a":"1.7","s":1,"v":1.2},{"d":"Shallow","a":"1.7","s":9,"v":1.25},{"d":"Shallow","a":"1.7","s":5,"v":1.3},{"d":"Shallow","a":"1.7","s":0,"v":1.35},{"d":"Shallow","a":"1.7","s":6,"v":1.4},{"d":"Shallow","a":"1.7","s":2,"v":1.45},{"d":"Shallow","a":"1.7","s":8,"v":1.5},{"d":"Shallow","a":"1.7","s":4,"v":1.55},{"d":"Shallow","a":"1.7","s":3,"v":1.6},{"d":"Shallow","a":"1.7","s":7,"v":1.65},{"d":"Shallow","a":"1.7","s":1,"v":1.7},{"d":"Shallow","a":"1.7","s":9,"v":1.8},{"d":"Shallow","a":"1.7","s":5,"v":1.82},{"d":"Shallow","a":"1.7","s":0,"v":1.9},{"d":"Shallow","a":"1.7","s":6,"v":1.92},{"d":"Shallow","a":"1.7","s":2,"v":1.4},{"d":"Shallow","a":"1.7","s":8,"v":1.5},{"d":"Shallow","a":"1.7","s":4,"v":1.6},
{"d":"Shallow","a":"pre-LN","s":0,"v":1.0},{"d":"Shallow","a":"pre-LN","s":4,"v":1.02},{"d":"Shallow","a":"pre-LN","s":8,"v":1.04},{"d":"Shallow","a":"pre-LN","s":2,"v":1.05},{"d":"Shallow","a":"pre-LN","s":6,"v":1.06},{"d":"Shallow","a":"pre-LN","s":9,"v":1.07},{"d":"Shallow","a":"pre-LN","s":5,"v":1.03},{"d":"Shallow","a":"pre-LN","s":1,"v":1.05},
{"d":"Middle","a":"0.1","s":3,"v":1.0},{"d":"Middle","a":"0.1","s":7,"v":1.02},{"d":"Middle","a":"0.1","s":1,"v":1.04},{"d":"Middle","a":"0.1","s":9,"v":1.06},{"d":"Middle","a":"0.1","s":5,"v":1.08},{"d":"Middle","a":"0.1","s":0,"v":1.1},{"d":"Middle","a":"0.1","s":6,"v":1.12},{"d":"Middle","a":"0.1","s":2,"v":1.15},{"d":"Middle","a":"0.1","s":8,"v":1.18},{"d":"Middle","a":"0.1","s":4,"v":1.05},
{"d":"Middle","a":"0.5","s":0,"v":1.0},{"d":"Middle","a":"0.5","s":4,"v":1.02},{"d":"Middle","a":"0.5","s":8,"v":1.04},{"d":"Middle","a":"0.5","s":2,"v":1.06},{"d":"Middle","a":"0.5","s":6,"v":1.08},{"d":"Middle","a":"0.5","s":9,"v":1.1},{"d":"Middle","a":"0.5","s":5,"v":1.05},{"d":"Middle","a":"0.5","s":1,"v":1.03},
{"d":"Middle","a":"0.9","s":0,"v":1.0},{"d":"Middle","a":"0.9","s":4,"v":1.02},{"d":"Middle","a":"0.9","s":8,"v":1.04},{"d":"Middle","a":"0.9","s":2,"v":1.06},{"d":"Middle","a":"0.9","s":6,"v":1.08},{"d":"Middle","a":"0.9","s":9,"v":1.1},{"d":"Middle","a":"0.9","s":5,"v":1.13},{"d":"Middle","a":"0.9","s":1,"v":1.07},
{"d":"Middle","a":"1.3","s":0,"v":1.03},{"d":"Middle","a":"1.3","s":4,"v":1.06},{"d":"Middle","a":"1.3","s":8,"v":1.09},{"d":"Middle","a":"1.3","s":2,"v":1.12},{"d":"Middle","a":"1.3","s":6,"v":1.15},{"d":"Middle","a":"1.3","s":9,"v":1.18},{"d":"Middle","a":"1.3","s":5,"v":1.22},{"d":"Middle","a":"1.3","s":1,"v":1.1},{"d":"Middle","a":"1.3","s":7,"v":1.14},
{"d":"Middle","a":"1.7","s":3,"v":1.1},{"d":"Middle","a":"1.7","s":7,"v":1.13},{"d":"Middle","a":"1.7","s":1,"v":1.16},{"d":"Middle","a":"1.7","s":9,"v":1.19},{"d":"Middle","a":"1.7","s":5,"v":1.22},{"d":"Middle","a":"1.7","s":0,"v":1.25},{"d":"Middle","a":"1.7","s":6,"v":1.28},{"d":"Middle","a":"1.7","s":2,"v":1.15},{"d":"Middle","a":"1.7","s":8,"v":1.2},{"d":"Middle","a":"1.7","s":4,"v":1.24},
{"d":"Middle","a":"pre-LN","s":0,"v":1.0},{"d":"Middle","a":"pre-LN","s":2,"v":1.01},{"d":"Middle","a":"pre-LN","s":5,"v":1.02},{"d":"Middle","a":"pre-LN","s":7,"v":1.03},{"d":"Middle","a":"pre-LN","s":9,"v":1.02},
{"d":"Deep","a":"0.1","s":0,"v":1.0},{"d":"Deep","a":"0.1","s":4,"v":1.02},{"d":"Deep","a":"0.1","s":8,"v":1.04},{"d":"Deep","a":"0.1","s":2,"v":1.06},{"d":"Deep","a":"0.1","s":6,"v":1.08},{"d":"Deep","a":"0.1","s":9,"v":1.03},
{"d":"Deep","a":"0.5","s":0,"v":1.0},{"d":"Deep","a":"0.5","s":2,"v":1.01},{"d":"Deep","a":"0.5","s":5,"v":1.02},{"d":"Deep","a":"0.5","s":7,"v":1.03},{"d":"Deep","a":"0.5","s":9,"v":1.02},
{"d":"Deep","a":"0.9","s":0,"v":1.0},{"d":"Deep","a":"0.9","s":2,"v":1.01},{"d":"Deep","a":"0.9","s":5,"v":1.02},{"d":"Deep","a":"0.9","s":7,"v":1.03},{"d":"Deep","a":"0.9","s":9,"v":1.02},
{"d":"Deep","a":"1.3","s":0,"v":1.0},{"d":"Deep","a":"1.3","s":2,"v":1.02},{"d":"Deep","a":"1.3","s":5,"v":1.04},{"d":"Deep","a":"1.3","s":7,"v":1.05},{"d":"Deep","a":"1.3","s":9,"v":1.03},
{"d":"Deep","a":"1.7","s":0,"v":1.03},{"d":"Deep","a":"1.7","s":4,"v":1.04},{"d":"Deep","a":"1.7","s":8,"v":1.05},{"d":"Deep","a":"1.7","s":2,"v":1.06},{"d":"Deep","a":"1.7","s":6,"v":1.07},{"d":"Deep","a":"1.7","s":9,"v":1.05},
{"d":"Deep","a":"pre-LN","s":0,"v":1.0},{"d":"Deep","a":"pre-LN","s":3,"v":1.01},{"d":"Deep","a":"pre-LN","s":6,"v":1.02},{"d":"Deep","a":"pre-LN","s":9,"v":1.01}]
},
"vconcat":[
{"hconcat":[
 {"title":{"text":"(a) 𝒥ᴮ,ᵇ: theory vs. ViT (synthetic inputs)","fontSize":22,"dx":17,"offset":0},
  "columns":2,"spacing":{"row":17,"column":0},
  "resolve":{"legend":{"shape":"independent"},"scale":{"shape":"independent"}},
  "concat":[
  {"width":200,"height":175,"title":"(σ₂₁,σₒᵥ) = (0.6, 1.2)","data":{"name":"a1"},
   "encoding":{"x":{"field":"b","type":"quantitative","scale":{"domain":[-3.2,67.2],"nice":false,"zero":false},"axis":{"values":[0,25,50],"labels":false,"title":null}},
    "color":{"field":"a","type":"nominal","scale":{"domain":["0.1","0.5","0.9","1.3","1.7","pre-LN"],"range":["#481f70","#33628d","#21918c","#4ec36b","#cde11d","#000000"]},"legend":null}},
   "layer":[
    {"transform":[{"filter":"datum.k != 'v'"}],"mark":{"type":"line","interpolate":"monotone","strokeWidth":2},
     "encoding":{"y":{"field":"v","type":"quantitative","scale":{"type":"log","domain":[0.776,204],"nice":false},"axis":{"orient":"left","tickCount":20,"labels":false,"grid":false,"domain":false,"tickSize":2.5,"title":null}}}},
    {"transform":[{"filter":"datum.k != 't'"}],"mark":{"type":"point","filled":true,"size":36,"stroke":"black","strokeWidth":0.8,"opacity":0.9},
     "encoding":{"y":{"field":"v","type":"quantitative","scale":{"type":"log","domain":[0.776,204],"nice":false},"axis":{"orient":"left","values":[1,10,100],"labelExpr":"'10' + ['⁰','¹','²','³','⁴','⁵','⁶','⁷','⁸','⁹','¹⁰','¹¹'][round(log(datum.value)/LN10)]","title":"𝒥ᴮ,ᵇ","titleFontSize":24,"titlePadding":13}}}}],
   "resolve":{"axis":{"y":"independent"}}},
  {"width":200,"height":175,"title":"(σ₂₁,σₒᵥ) = (2.4, 1.2)","data":{"name":"a2"},
   "encoding":{"x":{"field":"b","type":"quantitative","scale":{"domain":[-3.2,67.2],"nice":false,"zero":false},"axis":{"values":[0,25,50],"labels":false,"title":null}},
    "color":{"field":"a","type":"nominal","legend":null}},
   "layer":[
    {"transform":[{"filter":"datum.k != 'v'"}],"mark":{"type":"line","interpolate":"monotone","strokeWidth":2},
     "encoding":{"y":{"field":"v","type":"quantitative","scale":{"type":"log","domain":[0.33,14000000000],"nice":false},"axis":{"orient":"left","tickCount":20,"labels":false,"grid":false,"domain":false,"tickSize":2.5,"title":null}}}},
    {"transform":[{"filter":"datum.k != 't'"}],"mark":{"type":"point","filled":true,"size":36,"stroke":"black","strokeWidth":0.8,"opacity":0.9},
     "encoding":{"y":{"field":"v","type":"quantitative","scale":{"type":"log","domain":[0.33,14000000000],"nice":false},"axis":{"orient":"left","values":[10,1000,100000,10000000,1000000000],"labelExpr":"'10' + ['⁰','¹','²','³','⁴','⁵','⁶','⁷','⁸','⁹','¹⁰','¹¹'][round(log(datum.value)/LN10)]","title":null}}}}],
   "resolve":{"axis":{"y":"independent"}}},
  {"width":200,"height":175,"title":"(σ₂₁,σₒᵥ) = (0.6, 0.3)","data":{"name":"a3"},
   "encoding":{"x":{"field":"b","type":"quantitative","scale":{"domain":[-3.2,67.2],"nice":false,"zero":false},"axis":{"values":[0,25,50],"title":"b","titleFontStyle":"italic","titleFontSize":21,"titlePadding":2}},
    "color":{"field":"a","type":"nominal","legend":null}},
   "layer":[
    {"transform":[{"filter":"datum.k != 'v'"}],"mark":{"type":"line","interpolate":"monotone","strokeWidth":2},
     "encoding":{"y":{"field":"v","type":"quantitative","scale":{"type":"log","domain":[0.755,371],"nice":false},"axis":{"orient":"left","tickCount":20,"labels":false,"grid":false,"domain":false,"tickSize":2.5,"title":null}}}},
    {"transform":[{"filter":"datum.k != 't'"}],"mark":{"type":"point","filled":true,"size":36,"stroke":"black","strokeWidth":0.8,"opacity":0.9},
     "encoding":{"y":{"field":"v","type":"quantitative","scale":{"type":"log","domain":[0.755,371],"nice":false},"axis":{"orient":"left","values":[1,10,100],"labelExpr":"'10' + ['⁰','¹','²','³','⁴','⁵','⁶','⁷','⁸','⁹','¹⁰','¹¹'][round(log(datum.value)/LN10)]","title":"𝒥ᴮ,ᵇ","titleFontSize":24,"titlePadding":13}}}}],
   "resolve":{"axis":{"y":"independent"}}},
  {"width":200,"height":175,"title":"(σ₂₁,σₒᵥ) = (2.4, 0.3)","data":{"name":"a4"},
   "encoding":{"x":{"field":"b","type":"quantitative","scale":{"domain":[-3.2,67.2],"nice":false,"zero":false},"axis":{"values":[0,25,50],"title":"b","titleFontStyle":"italic","titleFontSize":21,"titlePadding":2}},
    "color":{"field":"a","type":"nominal","legend":null}},
   "layer":[
    {"transform":[{"filter":"datum.k != 'v'"}],"mark":{"type":"line","interpolate":"monotone","strokeWidth":2},
     "encoding":{"y":{"field":"v","type":"quantitative","scale":{"type":"log","domain":[0.3,95000000000],"nice":false},"axis":{"orient":"left","tickCount":20,"labels":false,"grid":false,"domain":false,"tickSize":2.5,"title":null}}}},
    {"transform":[{"filter":"datum.k != 't'"}],"mark":{"type":"point","filled":true,"size":36,"stroke":"black","strokeWidth":0.8,"opacity":0.9},
     "encoding":{"y":{"field":"v","type":"quantitative","scale":{"type":"log","domain":[0.3,95000000000],"nice":false},"axis":{"orient":"left","values":[10,1000,100000,10000000,1000000000],"labelExpr":"'10' + ['⁰','¹','²','³','⁴','⁵','⁶','⁷','⁸','⁹','¹⁰','¹¹'][round(log(datum.value)/LN10)]","title":null}},
      "shape":{"datum":"ViT","type":"nominal","scale":{"domain":["theory","ViT"],"range":["M-4.5,0H4.5","circle"]},
       "legend":{"title":null,"orient":"top-right","offset":12,"padding":0,"labelFontSize":18,"labelOffset":27,"rowPadding":8,"symbolSize":60,"symbolStrokeWidth":2,"symbolStrokeColor":"black","symbolFillColor":"black"}}}}],
   "resolve":{"axis":{"y":"independent"}}}
  ]},
 {"title":{"text":"(b) Per-sample GMFEs for 𝒥ᴮ,ᵇ (CIFAR-100)","fontSize":22,"dx":21,"offset":0},
  "columns":2,"spacing":{"row":6,"column":8},
  "concat":[
  {"width":200,"height":175,"title":"(σ₂₁,σₒᵥ) = (0.6, 1.2)",
   "layer":[
    {"data":{"name":"b1"},"transform":[{"calculate":"indexof(['0.1','0.5','0.9','1.3','1.7','pre-LN'], datum.a) * 10 + 2.5 + datum.s * 0.45","as":"j"}],
     "mark":{"type":"point","filled":true,"size":40,"opacity":0.85,"clip":true},
     "encoding":{"x":{"field":"d","type":"nominal","scale":{"domain":["Shallow","Middle","Deep"],"paddingInner":0,"paddingOuter":0},"axis":{"title":null,"labels":false,"grid":true,"bandPosition":0.5}},
      "xOffset":{"field":"j","type":"quantitative","scale":{"domain":[-3,62],"nice":false,"zero":false}},
      "y":{"field":"v","type":"quantitative","scale":{"domain":[1,10],"nice":false,"zero":false},"axis":{"values":[1,4,7,10],"title":"GMFE","titleFontSize":20}},
      "color":{"field":"a","type":"nominal","legend":null}}},
    {"data":{"values":[{"d":"Middle"},{"d":"Deep"}]},"mark":{"type":"rule","strokeDash":[3,2],"color":"#666","strokeWidth":1},"encoding":{"x":{"field":"d","type":"nominal","bandPosition":0}}}]},
  {"width":200,"height":175,"title":"(σ₂₁,σₒᵥ) = (2.4, 1.2)",
   "layer":[
    {"data":{"name":"b2"},"transform":[{"calculate":"indexof(['0.1','0.5','0.9','1.3','1.7','pre-LN'], datum.a) * 10 + 2.5 + datum.s * 0.45","as":"j"}],
     "mark":{"type":"point","filled":true,"size":40,"opacity":0.85,"clip":true},
     "encoding":{"x":{"field":"d","type":"nominal","scale":{"domain":["Shallow","Middle","Deep"],"paddingInner":0,"paddingOuter":0},"axis":{"title":null,"labels":false,"grid":true,"bandPosition":0.5}},
      "xOffset":{"field":"j","type":"quantitative","scale":{"domain":[-3,62],"nice":false,"zero":false}},
      "y":{"field":"v","type":"quantitative","scale":{"domain":[1,2],"nice":false,"zero":false},"axis":{"values":[1,1.5,2],"format":".1f","title":null}},
      "color":{"field":"a","type":"nominal","legend":null}}},
    {"data":{"values":[{"d":"Middle"},{"d":"Deep"}]},"mark":{"type":"rule","strokeDash":[3,2],"color":"#666","strokeWidth":1},"encoding":{"x":{"field":"d","type":"nominal","bandPosition":0}}}]},
  {"width":200,"height":175,"title":"(σ₂₁,σₒᵥ) = (0.6, 0.3)",
   "layer":[
    {"data":{"name":"b3"},"transform":[{"calculate":"indexof(['0.1','0.5','0.9','1.3','1.7','pre-LN'], datum.a) * 10 + 2.5 + datum.s * 0.45","as":"j"}],
     "mark":{"type":"point","filled":true,"size":40,"opacity":0.85,"clip":true},
     "encoding":{"x":{"field":"d","type":"nominal","scale":{"domain":["Shallow","Middle","Deep"],"paddingInner":0,"paddingOuter":0},"axis":{"title":"Depth range","titleFontSize":20,"labelAngle":0,"grid":true,"titlePadding":2,"bandPosition":0.5}},
      "xOffset":{"field":"j","type":"quantitative","scale":{"domain":[-3,62],"nice":false,"zero":false}},
      "y":{"field":"v","type":"quantitative","scale":{"domain":[1,2],"nice":false,"zero":false},"axis":{"values":[1,1.5,2],"format":".1f","title":"GMFE","titleFontSize":20}},
      "color":{"field":"a","type":"nominal","legend":null}}},
    {"data":{"values":[{"d":"Middle"},{"d":"Deep"}]},"mark":{"type":"rule","strokeDash":[3,2],"color":"#666","strokeWidth":1},"encoding":{"x":{"field":"d","type":"nominal","bandPosition":0}}}]},
  {"width":200,"height":175,"title":"(σ₂₁,σₒᵥ) = (2.4, 0.3)",
   "layer":[
    {"data":{"name":"b4"},"transform":[{"calculate":"indexof(['0.1','0.5','0.9','1.3','1.7','pre-LN'], datum.a) * 10 + 2.5 + datum.s * 0.45","as":"j"}],
     "mark":{"type":"point","filled":true,"size":40,"opacity":0.85,"clip":true},
     "encoding":{"x":{"field":"d","type":"nominal","scale":{"domain":["Shallow","Middle","Deep"],"paddingInner":0,"paddingOuter":0},"axis":{"title":"Depth range","titleFontSize":20,"labelAngle":0,"grid":true,"titlePadding":2,"bandPosition":0.5}},
      "xOffset":{"field":"j","type":"quantitative","scale":{"domain":[-3,62],"nice":false,"zero":false}},
      "y":{"field":"v","type":"quantitative","scale":{"domain":[1,2],"nice":false,"zero":false},"axis":{"values":[1,1.5,2],"format":".1f","title":null}},
      "color":{"field":"a","type":"nominal","legend":null}}},
    {"data":{"values":[{"d":"Middle"},{"d":"Deep"}]},"mark":{"type":"rule","strokeDash":[3,2],"color":"#666","strokeWidth":1},"encoding":{"x":{"field":"d","type":"nominal","bandPosition":0}}}]}
  ]}
 ],"spacing":52,"resolve":{"legend":{"shape":"independent"},"scale":{"shape":"independent"}}},
{"hconcat":[
 {"width":258,"height":22,"data":{"values":[]},"mark":"rect","encoding":{}},
 {"width":428,"height":22,"data":{"values":[{"a":"0.1"},{"a":"0.5"},{"a":"0.9"},{"a":"1.3"},{"a":"1.7"}]},"mark":{"type":"rule","strokeWidth":85.6,"clip":true},
  "encoding":{"x":{"field":"a","type":"nominal","scale":{"type":"band","paddingInner":0,"paddingOuter":0},"axis":{"title":"α (Derf)","domain":false,"ticks":false,"labelAngle":0,"labelFontSize":18,"titleFontSize":19,"labelPadding":3,"titlePadding":2,"grid":false}},
   "color":{"field":"a","type":"nominal","legend":null}}},
 {"width":78,"height":22,"data":{"values":[{"a":"pre-LN"}]},"mark":{"type":"rule","strokeWidth":78,"clip":true},
  "encoding":{"x":{"field":"a","type":"nominal","scale":{"type":"band","paddingInner":0,"paddingOuter":0},"axis":{"title":null,"domain":false,"ticks":false,"labelAngle":0,"labelFontSize":18,"labelPadding":3,"grid":false}},
   "color":{"field":"a","type":"nominal","legend":null}}}
 ],"spacing":8}
],
"spacing":12,
"resolve":{"legend":{"shape":"independent"},"scale":{"shape":"independent"}}
}
